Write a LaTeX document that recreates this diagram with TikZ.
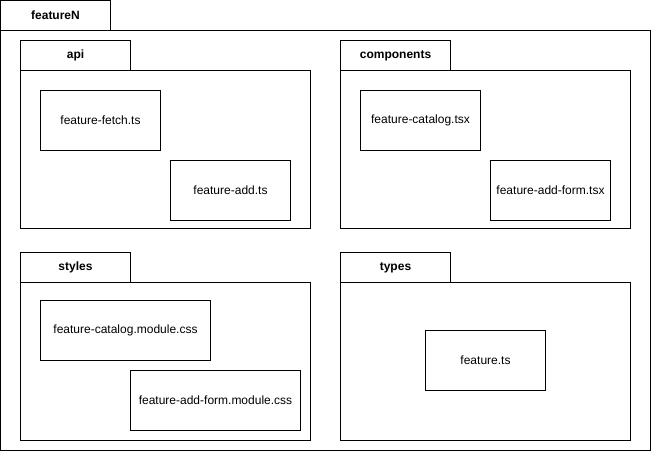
\documentclass[tikz,border=0pt]{standalone}
\usepackage{fontspec}
\setmainfont{Liberation Sans}
\tikzset{
  pkgtab/.style={draw, line width=1pt, anchor=north west, outer sep=0pt, inner sep=0pt,
    minimum width=110pt, minimum height=30pt, font=\fontsize{12}{14}\selectfont\bfseries},
  pkgbody/.style={draw, line width=1pt, anchor=north west, outer sep=0pt, inner sep=0pt},
  filebox/.style={draw, line width=1pt, anchor=north west, outer sep=0pt, inner sep=0pt,
    minimum width=120pt, minimum height=60pt, font=\fontsize{12}{14}\selectfont}
}
\begin{document}
\begin{tikzpicture}[x=1pt,y=-1pt]
        \useasboundingbox[fill=white] (0,0) rectangle (651,451);

        % Outer package
        \node[pkgtab] (featuretab) at (0.5,0.5) {featureN};
        \node[pkgbody, minimum width=650pt, minimum height=420pt] (featurebody) at (0.5,30.5) {};

        % api
        \node[pkgtab] (apitab) at (20.5,40.5) {api};
        \node[pkgbody, minimum width=290pt, minimum height=158pt] (apibody) at (20.5,70.5) {};
        \node[filebox] (fetch) at (40.5,90.5) {feature-fetch.ts};
        \node[filebox] (add) at (170.5,160.5) {feature-add.ts};

        % components
        \node[pkgtab] (comptab) at (340.5,40.5) {components};
        \node[pkgbody, minimum width=290pt, minimum height=158pt] (compbody) at (340.5,70.5) {};
        \node[filebox] (catalog) at (360.5,90.5) {feature-catalog.tsx};
        \node[filebox] (addform) at (490.5,160.5) {feature-add-form.tsx};

        % styles
        \node[pkgtab] (styletab) at (20.5,252.5) {styles};
        \node[pkgbody, minimum width=290pt, minimum height=158pt] (stylebody) at (20.5,282.5) {};
        \node[filebox, minimum width=170pt] (catalogcss) at (40.5,300.5) {feature-catalog.module.css};
        \node[filebox, minimum width=170pt] (addformcss) at (130.5,370.5) {feature-add-form.module.css};

        % types
        \node[pkgtab] (typetab) at (340.5,252.5) {types};
        \node[pkgbody, minimum width=290pt, minimum height=158pt] (typebody) at (340.5,282.5) {};
        \node[filebox] (types) at (425.5,330.5) {feature.ts};
\end{tikzpicture}
\end{document}
